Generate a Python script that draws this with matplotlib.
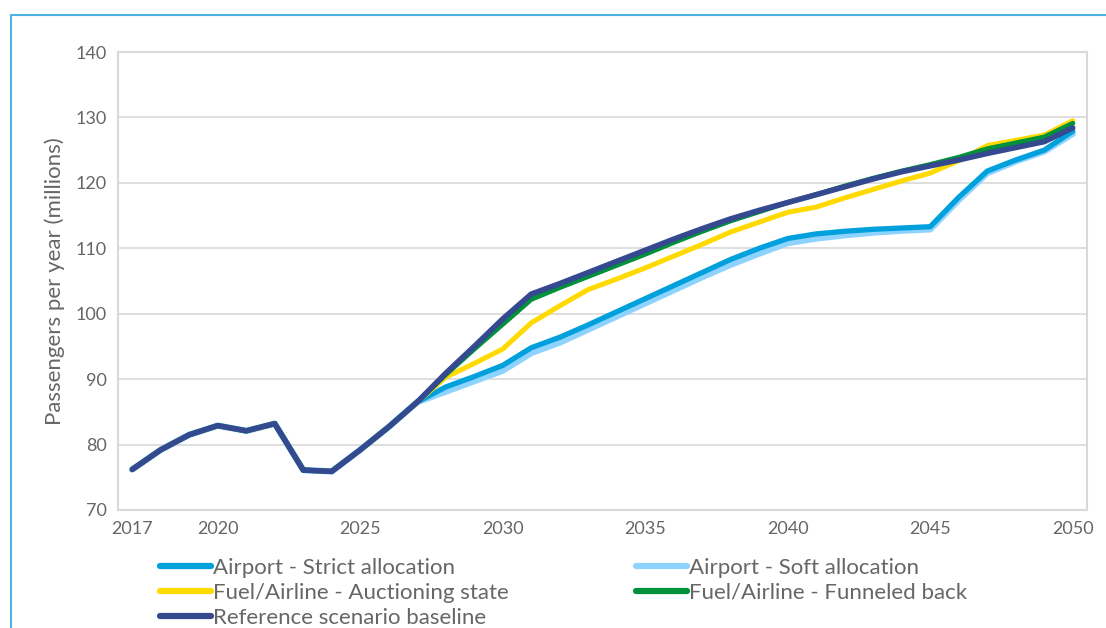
import matplotlib
matplotlib.use("Agg")
import matplotlib.pyplot as plt
from matplotlib.patches import Rectangle

years = list(range(2017, 2051))

common = [76.2, 79.2, 81.5, 82.9, 82.1, 83.2, 76.1, 75.9, 79.2, 82.7, 86.5]

strict = common + [88.8, 90.4, 92.1, 94.8, 96.4, 98.3, 100.3, 102.3, 104.3, 106.3, 108.3,
                   110.0, 111.5, 112.2, 112.6, 112.9, 113.1, 113.3, 117.8, 121.8, 123.5,
                   125.0, 127.9]
soft = common + [88.1, 89.7, 91.3, 94.0, 95.6, 97.6, 99.6, 101.6, 103.6, 105.6, 107.5,
                 109.2, 110.8, 111.5, 112.0, 112.4, 112.7, 112.9, 117.4, 121.5, 123.3,
                 124.8, 127.5]
auction = common + [90.3, 92.4, 94.6, 98.6, 101.2, 103.7, 105.3, 107.0, 108.8, 110.6, 112.5,
                    114.0, 115.5, 116.3, 117.7, 119.0, 120.3, 121.5, 123.4, 125.7, 126.5,
                    127.3, 129.5]
funnel = common + [90.7, 94.6, 98.4, 102.2, 104.0, 105.7, 107.4, 109.1, 110.9, 112.6, 114.2,
                   115.6, 117.0, 118.2, 119.5, 120.7, 121.8, 122.8, 123.9, 125.2, 126.1,
                   127.0, 129.1]
baseline = common + [90.9, 95.0, 99.2, 103.0, 104.6, 106.3, 108.0, 109.7, 111.4, 113.0, 114.5,
                     115.8, 117.0, 118.2, 119.4, 120.6, 121.7, 122.6, 123.5, 124.5, 125.4,
                     126.3, 128.4]

labels = ["Airport - Strict allocation", "Airport - Soft allocation",
          "Fuel/Airline - Auctioning state", "Fuel/Airline - Funneled back",
          "Reference scenario baseline"]
colors = ["#00A0DC", "#8DD3FD", "#FFDA00", "#00913A", "#34498F"]

xticks = [2017, 2020, 2025, 2030, 2035, 2040, 2045, 2050]
yticks = [70, 80, 90, 100, 110, 120, 130, 140]

plt.rcParams['font.family'] = ['Lato', 'DejaVu Sans']
gray = "#666666"

fig = plt.figure(figsize=(11.06, 6.28), dpi=100)
fig.patches.append(Rectangle((11/1106, -0.1), 1.2, 1 - 15/628 + 0.1, transform=fig.transFigure,
                             fill=False, edgecolor="#4DB3E2", linewidth=1.5))
ax = fig.add_axes([118/1106, 1 - 510/628, (1087 - 118)/1106, (510 - 52)/628])

series = [strict, soft, auction, funnel, baseline]
zorders = [3, 2, 4, 5, 6]
widths = [3.8, 4.6, 3.6, 3.6, 4.0]
handles = []
for s, lab, c, z, w in zip(series, labels, colors, zorders, widths):
    h, = ax.plot(years, s, color=c, lw=w, zorder=z, label=lab, solid_capstyle='round',
                 solid_joinstyle='round')
    handles.append(h)

ax.set_xlim(2016.5, 2050.5)
ax.set_ylim(70, 140)
ax.set_xticks(xticks)
ax.set_yticks(yticks)
ax.tick_params(axis='both', length=0, labelsize=13, labelcolor=gray, pad=8)
ax.grid(axis='y', color="#D9D9D9", lw=1.2)
ax.set_axisbelow(True)
for sp in ax.spines.values():
    sp.set_color("#D9D9D9")
    sp.set_linewidth(1.5)
ax.set_ylabel("Passengers per year (millions)", fontsize=16, color=gray, labelpad=8)

order = [0, 2, 4, 1, 3]
leg = fig.legend([handles[i] for i in order], [labels[i] for i in order],
                 loc='upper left', bbox_to_anchor=(151/1106, 1 - 549/628),
                 ncol=2, frameon=False, fontsize=16, handlelength=2.3, handletextpad=0.08,
                 columnspacing=5.75, labelspacing=0.22, borderaxespad=0)
for t in leg.get_texts():
    t.set_color(gray)
for l in leg.get_lines():
    l.set_linewidth(4.5)

fig.savefig("out.png", dpi=100)
